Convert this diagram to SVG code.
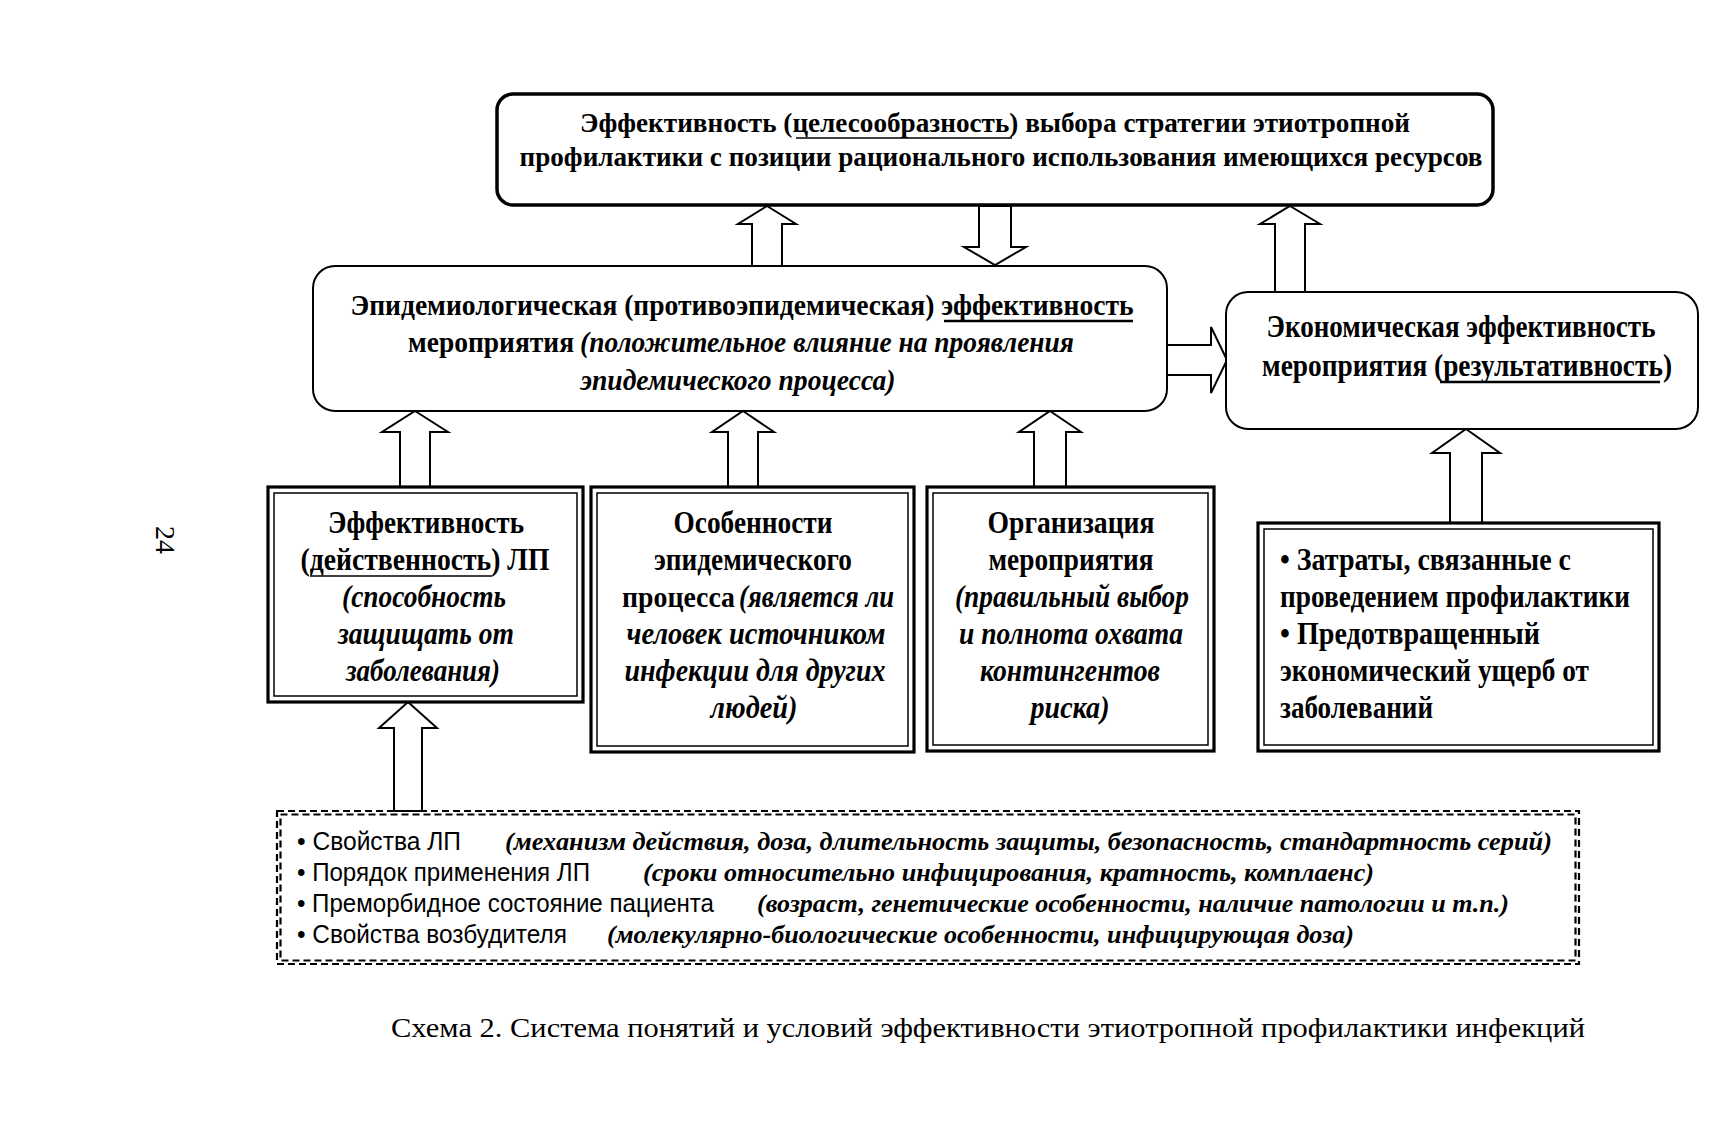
<svg xmlns="http://www.w3.org/2000/svg" width="1736" height="1126" viewBox="0 0 1736 1126">
<style>
.bg{fill:#fff}
.box{fill:#fff;stroke:#000}
.thick{stroke-width:3.5}
.thin{stroke-width:2}
.outer{stroke-width:3.2}
.inner{stroke-width:1.5}
.dash{fill:none;stroke:#000;stroke-width:2.2;stroke-dasharray:7 4}
.arrow{fill:#fff;stroke:#000;stroke-width:2;stroke-linejoin:miter}
.ul{stroke:#000;stroke-width:1.6}
.ulb{stroke:#000;stroke-width:2.6}
.t{font-family:'Liberation Serif','Times New Roman',serif;font-weight:bold;fill:#000}
.i{font-style:italic}
.s{font-family:'Liberation Sans',Arial,sans-serif;font-size:26px;fill:#000}
.di{font-family:'Liberation Serif','Times New Roman',serif;font-weight:bold;font-style:italic;font-size:25px;fill:#000}
.cap{font-family:'Liberation Serif','Times New Roman',serif;font-size:28px;fill:#000}
</style>
<rect class="bg" x="0" y="0" width="1736" height="1126"/>

<g id="connectors">
  <polygon class="arrow" points="767,206 796,224 782,224 782,266 752,266 752,224 738,224"/>
  <polygon class="arrow" points="979,206 1011,206 1011,247 1026,247 995,265 964,247 979,247"/>
  <polygon class="arrow" points="1290,206 1320,224 1305,224 1305,292 1275,292 1275,224 1260,224"/>
  <polygon class="arrow" points="1167,345 1211,345 1211,327 1227,360 1211,393 1211,375 1167,375"/>
  <polygon class="arrow" points="415,411 448,432 430,432 430,487 400,487 400,432 382,432"/>
  <polygon class="arrow" points="743,411 774,432 758,432 758,487 728,487 728,432 712,432"/>
  <polygon class="arrow" points="1050,411 1081,432 1066,432 1066,487 1034,487 1034,432 1019,432"/>
  <polygon class="arrow" points="1466,429 1500,453 1482,453 1482,523 1450,523 1450,453 1432,453"/>
  <polygon class="arrow" points="408,702 437,728 422,728 422,811 394,811 394,728 379,728"/>
</g>

<g id="top">
  <rect class="box thick" x="497" y="94" width="996" height="111" rx="16"/>
  <text class="t" font-size="28" x="995" y="132" text-anchor="middle" textLength="830" lengthAdjust="spacingAndGlyphs">Эффективность (целесообразность) выбора стратегии этиотропной</text>
  <line class="ul" x1="796" y1="138" x2="1012" y2="138"/>
  <text class="t" font-size="28" x="1001" y="166" text-anchor="middle" textLength="963" lengthAdjust="spacingAndGlyphs">профилактики с позиции рационального использования имеющихся ресурсов</text>
</g>

<g id="epid">
  <rect class="box thin" x="313" y="266" width="854" height="145" rx="22"/>
  <text class="t" font-size="30" x="742" y="315" text-anchor="middle" textLength="783" lengthAdjust="spacingAndGlyphs">Эпидемиологическая (противоэпидемическая) эффективность</text>
  <line class="ulb" x1="944" y1="321" x2="1133" y2="321"/>
  <text class="t" font-size="30" x="408" y="352" textLength="166" lengthAdjust="spacingAndGlyphs">мероприятия</text>
  <text class="t i" font-size="30" x="580" y="352" textLength="494" lengthAdjust="spacingAndGlyphs">(положительное влияние на проявления</text>
  <text class="t i" font-size="30" x="738" y="390" text-anchor="middle" textLength="315" lengthAdjust="spacingAndGlyphs">эпидемического процесса)</text>
</g>

<g id="econ">
  <rect class="box thin" x="1226" y="292" width="472" height="137" rx="22"/>
  <text class="t" font-size="31" x="1461" y="337" text-anchor="middle" textLength="389" lengthAdjust="spacingAndGlyphs">Экономическая эффективность</text>
  <text class="t" font-size="31" x="1467" y="376" text-anchor="middle" textLength="410" lengthAdjust="spacingAndGlyphs">мероприятия (результативность)</text>
  <line class="ulb" x1="1440" y1="382" x2="1660" y2="382"/>
</g>

<g id="drug">
  <rect class="box outer" x="268" y="487" width="315" height="215"/>
  <rect class="box inner" x="274" y="493" width="303" height="203"/>
  <text class="t" font-size="32" x="426" y="533" text-anchor="middle" textLength="196" lengthAdjust="spacingAndGlyphs">Эффективность</text>
  <text class="t" font-size="32" x="425" y="570" text-anchor="middle" textLength="249" lengthAdjust="spacingAndGlyphs">(действенность) ЛП</text>
  <line class="ul" x1="310" y1="576" x2="492" y2="576"/>
  <text class="t i" font-size="32" x="424" y="607" text-anchor="middle" textLength="164" lengthAdjust="spacingAndGlyphs">(способность</text>
  <text class="t i" font-size="32" x="426" y="644" text-anchor="middle" textLength="176" lengthAdjust="spacingAndGlyphs">защищать от</text>
  <text class="t i" font-size="32" x="423" y="681" text-anchor="middle" textLength="154" lengthAdjust="spacingAndGlyphs">заболевания)</text>
</g>

<g id="process">
  <rect class="box outer" x="591" y="487" width="323" height="265"/>
  <rect class="box inner" x="597" y="493" width="311" height="253"/>
  <text class="t" font-size="32" x="753" y="533" text-anchor="middle" textLength="159" lengthAdjust="spacingAndGlyphs">Особенности</text>
  <text class="t" font-size="32" x="753" y="570" text-anchor="middle" textLength="198" lengthAdjust="spacingAndGlyphs">эпидемического</text>
  <text class="t" font-size="30" x="622" y="607" textLength="113" lengthAdjust="spacingAndGlyphs">процесса</text>
  <text class="t i" font-size="32" x="739" y="607" textLength="155" lengthAdjust="spacingAndGlyphs">(является ли</text>
  <text class="t i" font-size="32" x="756" y="644" text-anchor="middle" textLength="259" lengthAdjust="spacingAndGlyphs">человек  источником</text>
  <text class="t i" font-size="32" x="755" y="681" text-anchor="middle" textLength="261" lengthAdjust="spacingAndGlyphs">инфекции  для других</text>
  <text class="t i" font-size="32" x="754" y="718" text-anchor="middle" textLength="87" lengthAdjust="spacingAndGlyphs">людей)</text>
</g>

<g id="organization">
  <rect class="box outer" x="927" y="487" width="287" height="264"/>
  <rect class="box inner" x="933" y="493" width="275" height="252"/>
  <text class="t" font-size="32" x="1071" y="533" text-anchor="middle" textLength="167" lengthAdjust="spacingAndGlyphs">Организация</text>
  <text class="t" font-size="32" x="1071" y="570" text-anchor="middle" textLength="165" lengthAdjust="spacingAndGlyphs">мероприятия</text>
  <text class="t i" font-size="32" x="1072" y="607" text-anchor="middle" textLength="234" lengthAdjust="spacingAndGlyphs">(правильный выбор</text>
  <text class="t i" font-size="32" x="1071" y="644" text-anchor="middle" textLength="224" lengthAdjust="spacingAndGlyphs">и полнота охвата</text>
  <text class="t i" font-size="32" x="1070" y="681" text-anchor="middle" textLength="180" lengthAdjust="spacingAndGlyphs">контингентов</text>
  <text class="t i" font-size="32" x="1070" y="718" text-anchor="middle" textLength="79" lengthAdjust="spacingAndGlyphs">риска)</text>
</g>

<g id="costs">
  <rect class="box outer" x="1258" y="523" width="401" height="228"/>
  <rect class="box inner" x="1264" y="529" width="389" height="216"/>
  <text class="t" font-size="32" x="1280" y="570" textLength="291" lengthAdjust="spacingAndGlyphs">• Затраты, связанные с</text>
  <text class="t" font-size="32" x="1280" y="607" textLength="350" lengthAdjust="spacingAndGlyphs">проведением профилактики</text>
  <text class="t" font-size="32" x="1280" y="644" textLength="260" lengthAdjust="spacingAndGlyphs">• Предотвращенный</text>
  <text class="t" font-size="32" x="1280" y="681" textLength="309" lengthAdjust="spacingAndGlyphs">экономический ущерб от</text>
  <text class="t" font-size="32" x="1280" y="718" textLength="153" lengthAdjust="spacingAndGlyphs">заболеваний</text>
</g>

<g id="conditions">
  <rect class="dash" x="277" y="811" width="1302" height="153"/>
  <rect class="dash" x="280.5" y="814.5" width="1295" height="146"/>
  <text class="s" x="297" y="850" textLength="164" lengthAdjust="spacingAndGlyphs">• Свойства ЛП</text>
  <text class="di" x="505" y="850" textLength="1047" lengthAdjust="spacingAndGlyphs">(механизм действия, доза,  длительность защиты,  безопасность, стандартность серий)</text>
  <text class="s" x="297" y="881" textLength="293" lengthAdjust="spacingAndGlyphs">• Порядок применения ЛП</text>
  <text class="di" x="643" y="881" textLength="731" lengthAdjust="spacingAndGlyphs">(сроки относительно инфицирования, кратность, комплаенс)</text>
  <text class="s" x="297" y="912" textLength="417" lengthAdjust="spacingAndGlyphs">• Преморбидное состояние пациента</text>
  <text class="di" x="757" y="912" textLength="752" lengthAdjust="spacingAndGlyphs">(возраст, генетические особенности, наличие патологии и т.п.)</text>
  <text class="s" x="297" y="943" textLength="270" lengthAdjust="spacingAndGlyphs">• Свойства возбудителя</text>
  <text class="di" x="607" y="943" textLength="747" lengthAdjust="spacingAndGlyphs">(молекулярно-биологические особенности, инфицирующая доза)</text>
</g>

<text class="cap" x="988" y="1037" text-anchor="middle" textLength="1194" lengthAdjust="spacingAndGlyphs">Схема 2. Система понятий и условий эффективности этиотропной профилактики инфекций</text>
<text class="cap" font-size="26" transform="translate(156,540) rotate(90)" text-anchor="middle">24</text>
</svg>
